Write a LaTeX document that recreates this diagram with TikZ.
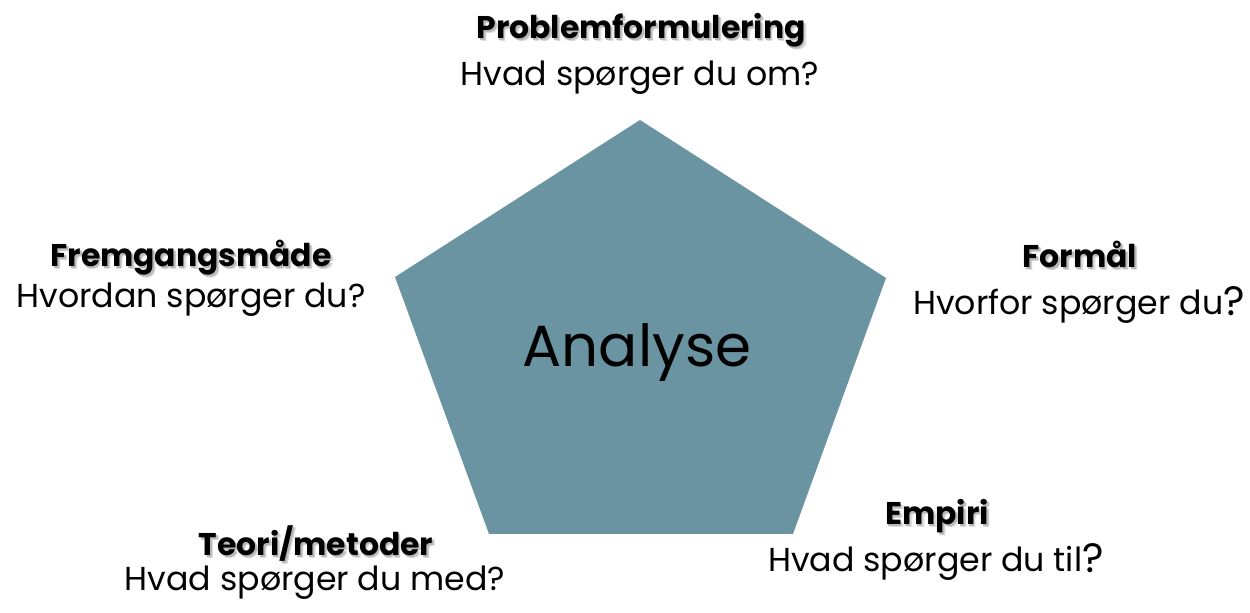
\documentclass[tikz,border=0pt]{standalone}
\usepackage{fontspec}
\setmainfont{Poppins}
\definecolor{pentafill}{RGB}{106,148,161}
\newcommand\shd[1]{\makebox[0pt][l]{\hspace{1.4pt}\raisebox{-1.4pt}{\color{black!13}#1}}\makebox[0pt][l]{\hspace{0.8pt}\raisebox{-0.8pt}{\color{black!28}#1}}#1}
\newcommand\bq{\raisebox{-0.5pt}{\fontsize{20.5}{24}\selectfont ?}}
\tikzset{
  head/.style={anchor=base, inner sep=0pt, font=\fontsize{15.7}{19}\selectfont\bfseries},
  sub/.style={anchor=base, inner sep=0pt, font=\fontsize{16.6}{20}\selectfont},
  center/.style={anchor=base, inner sep=0pt, font=\fontsize{29}{34}\selectfont}
}
\begin{document}
\begin{tikzpicture}[x=0.5pt,y=-0.5pt]
\useasboundingbox (0,0) rectangle (1250,613);
\coordinate (T) at (640,120);
\coordinate (L) at (395,277);
\coordinate (R) at (886,278);
\coordinate (BL) at (489,534);
\coordinate (BR) at (793,534);
\fill[pentafill] (T) -- (R) -- (BR) -- (BL) -- (L) -- cycle;
\node[center] (analyse) at (637,367) {Analyse};

\node[head] (h1) at (641,39) {\shd{Problemformulering}};
\node[sub] (s1) at (640,86) {Hvad spørger du om?};

\node[head] (h2) at (191,267) {\shd{Fremgangsmåde}};
\node[sub] (s2) at (191,308) {Hvordan spørger du?};

\node[head] (h3) at (1080,268) {\shd{Formål}};
\node[sub] (s3) at (1079,315) {Hvorfor spørger du\bq};

\node[head] (h4) at (937,525) {\shd{Empiri}};
\node[sub] (s4) at (936,572) {Hvad spørger du til\bq};

\node[head] (h5) at (316,556) {\shd{Teori/metoder}};
\node[sub] (s5) at (315,591) {Hvad spørger du med?};
\end{tikzpicture}
\end{document}
